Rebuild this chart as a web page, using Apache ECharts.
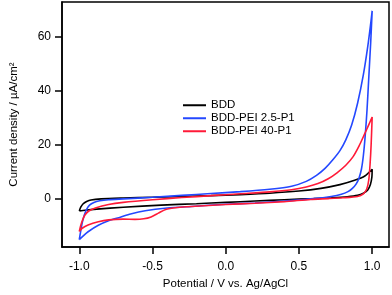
<!DOCTYPE html>
<html>
<head>
<meta charset="utf-8">
<script src="https://cdn.jsdelivr.net/npm/echarts@6/dist/echarts.min.js"></script>
<style>html,body{margin:0;padding:0;background:#fff}#c{width:392px;height:295px}</style>
</head>
<body>
<div id="c"></div>
<script>
// Potential (V) vs current density (µA/cm²), forward sweep (-1 → 1) then reverse (1 → -1)
const seriesNames = ['BDD', 'BDD-PEI 2.5-P1', 'BDD-PEI 40-P1'];
const xTicks = [-1.0, -0.5, 0.0, 0.5, 1.0];
const yTicks = [0, 20, 40, 60];

const bddFwd = [[-1.0,-4.6],[-0.99,-3.2],[-0.975,-2.0],[-0.95,-1.1],[-0.92,-0.5],[-0.85,-0.1],[-0.7,0.2],[-0.5,0.5],[-0.3,0.8],[-0.1,1.1],[0.1,1.5],[0.3,2.0],[0.5,2.8],[0.65,3.8],[0.78,5.2],[0.88,6.8],[0.95,8.4],[1.0,10.9]];
const bddRev = [[0.998,8.0],[0.988,5.2],[0.97,3.2],[0.94,2.0],[0.9,1.2],[0.83,0.7],[0.72,0.3],[0.6,0.0],[0.4,-0.4],[0.2,-0.9],[0.0,-1.4],[-0.2,-1.9],[-0.44,-2.4],[-0.7,-3.2],[-0.88,-3.9],[-0.96,-4.3],[-1.0,-4.6]];

const pei25Fwd = [[-1.0,-15.2],[-0.99,-12.0],[-0.98,-9.0],[-0.965,-6.0],[-0.95,-4.0],[-0.93,-2.4],[-0.9,-1.4],[-0.86,-0.8],[-0.8,-0.4],[-0.7,-0.1],[-0.5,0.5],[-0.3,1.2],[-0.1,1.9],[0.1,2.6],[0.3,3.5],[0.45,4.6],[0.55,6.4],[0.62,8.6],[0.68,11.3],[0.73,14.3],[0.78,17.8],[0.82,21.8],[0.86,27.3],[0.9,35.3],[0.94,46.0],[0.97,56.5],[0.99,65.0],[1.0,69.7]];
const pei25Rev = [[0.99,58.0],[0.978,46.0],[0.965,33.0],[0.952,23.0],[0.94,16.0],[0.927,11.0],[0.91,7.6],[0.89,5.4],[0.865,3.8],[0.835,2.6],[0.79,1.6],[0.72,0.8],[0.6,0.0],[0.4,-0.9],[0.2,-1.6],[0.0,-2.1],[-0.235,-2.9],[-0.4,-3.5],[-0.55,-4.5],[-0.65,-5.7],[-0.72,-6.9],[-0.8,-8.2],[-0.87,-9.9],[-0.94,-12.3],[-0.98,-14.2],[-1.0,-15.2]];

const pei40Fwd = [[-1.0,-12.2],[-0.99,-10.0],[-0.975,-7.6],[-0.96,-6.0],[-0.935,-4.6],[-0.89,-3.5],[-0.8,-2.2],[-0.7,-1.4],[-0.5,-0.4],[-0.3,0.4],[-0.1,1.1],[0.1,1.8],[0.3,2.5],[0.45,3.3],[0.55,4.3],[0.63,5.6],[0.7,7.4],[0.76,9.6],[0.82,12.4],[0.87,15.6],[0.91,19.5],[0.945,23.6],[0.975,27.2],[1.0,30.3]];
const pei40Rev = [[0.993,20.0],[0.986,13.0],[0.977,7.0],[0.963,3.6],[0.94,1.8],[0.9,0.8],[0.8,0.3],[0.7,0.0],[0.58,-0.3],[0.4,-1.1],[0.2,-1.7],[0.0,-2.2],[-0.235,-2.9],[-0.33,-3.3],[-0.41,-4.0],[-0.46,-5.4],[-0.51,-6.8],[-0.56,-7.5],[-0.62,-7.7],[-0.7,-7.6],[-0.8,-7.9],[-0.87,-8.6],[-0.94,-9.8],[-0.98,-11.0],[-1.0,-12.2]];

const colors = ['#000000', '#2448ff', '#ff1a38'];
const loops = [bddFwd.concat(bddRev), pei25Fwd.concat(pei25Rev), pei40Fwd.concat(pei40Rev)];

const FONT = 'Liberation Sans, Arial, sans-serif';
const chart = echarts.init(document.getElementById('c'), null, {renderer: 'canvas'});
chart.setOption({
  animation: false,
  backgroundColor: '#fff',
  grid: {left: 60, top: 2, right: 3, bottom: 43, show: true, borderColor: '#000', borderWidth: 1.5, containLabel: false},
  legend: {
    orient: 'vertical', left: 178, top: 94, itemWidth: 23, itemHeight: 2, itemGap: 0.5, icon: 'rect',
    data: seriesNames,
    textStyle: {fontFamily: FONT, fontSize: 11.5, color: '#000', lineHeight: 12.5}
  },
  xAxis: {
    type: 'value', min: -1.118, max: 1.115,
    axisLine: {show: true, onZero: false, lineStyle: {color: '#000', width: 1.5}},
    axisTick: {show: true, inside: false, length: 7, lineStyle: {color: '#000', width: 1.5}, customValues: xTicks},
    axisLabel: {customValues: xTicks, formatter: v => v.toFixed(1), margin: 14, color: '#000', fontFamily: FONT, fontSize: 12},
    splitLine: {show: false},
    name: 'Potential / V vs. Ag/AgCl', nameLocation: 'middle', nameGap: 28,
    nameTextStyle: {fontFamily: FONT, fontSize: 11.5, color: '#000'}
  },
  yAxis: {
    type: 'value', min: -18, max: 73,
    axisLine: {show: true, onZero: false, lineStyle: {color: '#000', width: 1.5}},
    axisTick: {show: true, inside: false, length: 7, lineStyle: {color: '#000', width: 1.5}, customValues: yTicks},
    axisLabel: {customValues: yTicks, margin: 11, color: '#000', fontFamily: FONT, fontSize: 12},
    splitLine: {show: false},
    name: 'Current density / µA/cm²', nameLocation: 'middle', nameGap: 42,
    nameTextStyle: {fontFamily: FONT, fontSize: 11.5, color: '#000'}
  },
  series: seriesNames.map((n, i) => ({
    name: n, type: 'line', data: loops[i], showSymbol: false, symbol: 'none',
    smooth: 0.25, color: colors[i],
    lineStyle: {color: colors[i], width: 1.6}
  }))
});
</script>
</body>
</html>
